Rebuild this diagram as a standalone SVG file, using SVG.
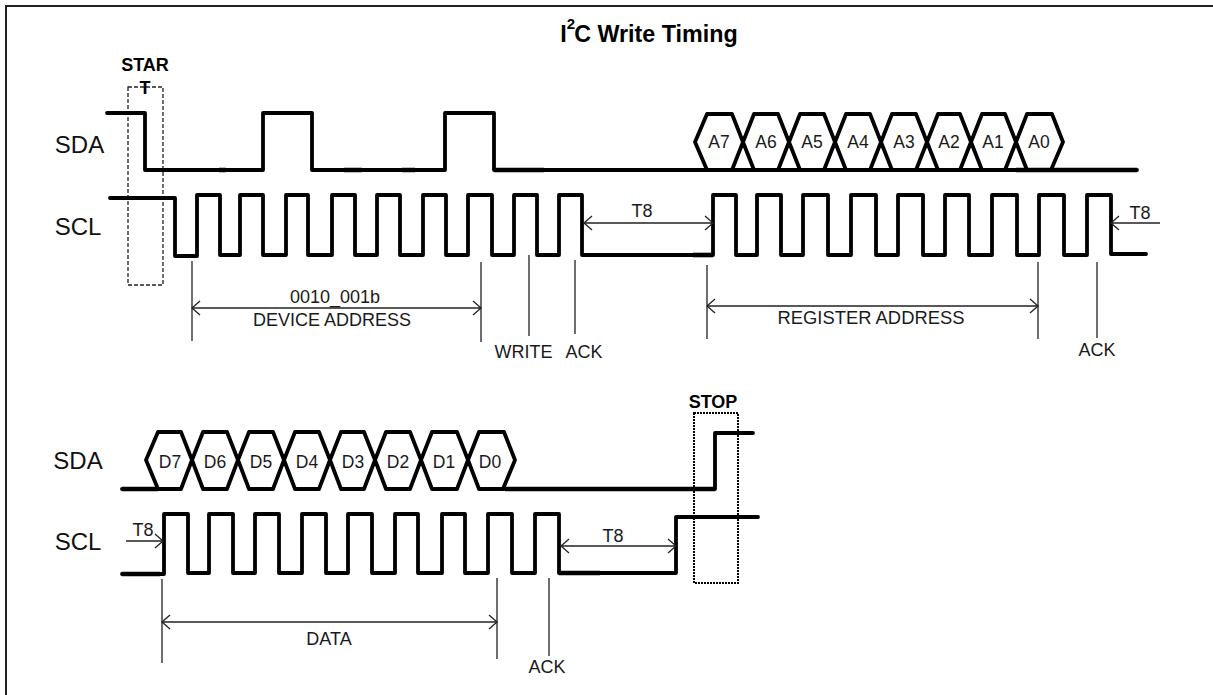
<svg xmlns="http://www.w3.org/2000/svg" width="1213" height="695" viewBox="0 0 1213 695">
<style>
text{font-family:"Liberation Sans",Arial,sans-serif;fill:#1a1a1a;font-size:18px;text-anchor:middle}
.sig{font-size:24px;fill:#111}
.b{font-weight:bold;fill:#000}
.h{font-size:17.500px}
.w{fill:none;stroke:#000;stroke-width:3.800;stroke-linejoin:round;stroke-linecap:round}
.k{fill:none;stroke:#000;stroke-width:4.600}
.t{fill:none;stroke:#222;stroke-width:1.300}
.a{marker-start:url(#l);marker-end:url(#r)}
</style>
<defs>
<marker id="r" markerUnits="userSpaceOnUse" markerWidth="10" markerHeight="16" refX="8" refY="8" orient="auto" overflow="visible"><path d="M0 1L8 8L0 15" fill="none" stroke="#222" stroke-width="1.300"/></marker>
<marker id="l" markerUnits="userSpaceOnUse" markerWidth="10" markerHeight="16" refX="0" refY="8" orient="auto" overflow="visible"><path d="M8 1L0 8L8 15" fill="none" stroke="#222" stroke-width="1.300"/></marker>
</defs>
<rect width="1213" height="695" fill="#fff"/>
<path id="frame" d="M1213 6H6V695" fill="none" stroke="#222" stroke-width="2"/>
<g id="title"><text class="b" x="649" y="42" style="font-size:23.300px">I<tspan dy="-13" style="font-size:15px">2</tspan><tspan dy="13" dx="-1">C Write Timing</tspan></text></g>

<g id="start"><rect class="t" x="128" y="87" width="35" height="198" stroke-dasharray="4 2"/><text class="b" x="145" y="71">STAR</text><text class="b" x="145" y="94">T</text></g>
<g id="stop"><rect x="694" y="413" width="44" height="170" fill="none" stroke="#000" stroke-width="2" stroke-dasharray="2 1"/><text class="b" x="713" y="408">STOP</text></g>

<g id="labels">
<text class="sig" x="79.500" y="153">SDA</text><text class="sig" x="78" y="235">SCL</text>
<text class="sig" x="78" y="469">SDA</text><text class="sig" x="78" y="550">SCL</text>
</g>

<g id="sda1"><path class="w" d="M107 113H145V170H263V113H312V170H445V113H494V170H1137"/><path class="k" d="M219 170H226M344 170H362M402 170H415M494 170H544M1016 170H1137"/></g>
<g id="scl1"><path class="w" d="M110 198H175V256H197V195H220V255H240V195H263V255H286V195H308V255H332V195H355V255H377V195H400V255H423V195H446V255H468V195H492V255H514V195H537V255H559V195H582V255H713V195H736V255H757V195H781V255H803V195H828V255H851V195H876V255H898V195H923V255H945V195H969V255H992V195H1017V255H1039V195H1064V255H1087V195H1111V254H1146"/><path class="k" d="M693 255H713"/></g>
<g id="addr">
<path class="w" d="M695 142L707 114H732L743 142L754 114H778L789 142L800 114H824L835 142L846 114H870L881 142L892 114H916L927 142L938 114H960L971 142L982 114H1005L1016 142L1027 114H1052L1063 142L1051 170H1027L1016 142L1005 170H982L971 142L960 170H938L927 142L916 170H892L881 142L870 170H846L835 142L824 170H800L789 142L778 170H754L743 142L732 170H707Z"/>
<text class="h" x="719" y="148">A7</text><text class="h" x="766" y="148">A6</text><text class="h" x="812" y="148">A5</text><text class="h" x="858" y="148">A4</text><text class="h" x="904" y="148">A3</text><text class="h" x="949" y="148">A2</text><text class="h" x="993" y="148">A1</text><text class="h" x="1039" y="148">A0</text>
</g>
<g id="sda2"><path class="w" d="M122 489H158M505 489H715V433H753"/><path class="k" d="M122 489H158M505 489H715"/></g>
<g id="data">
<path class="w" d="M146 460L158 432H181L192 460L203 432H227L238 460L249 432H273L284 460L295 432H319L330 460L341 432H364L375 460L386 432H410L421 460L432 432H457L468 460L479 432H504L515 460L503 489H479L468 460L457 489H432L421 460L410 489H386L375 460L364 489H341L330 460L319 489H295L284 460L273 489H249L238 460L227 489H203L192 460L181 489H158Z"/>
<text class="h" x="170" y="468">D7</text><text class="h" x="215" y="468">D6</text><text class="h" x="261" y="468">D5</text><text class="h" x="307" y="468">D4</text><text class="h" x="353" y="468">D3</text><text class="h" x="398" y="468">D2</text><text class="h" x="444" y="468">D1</text><text class="h" x="490" y="468">D0</text>
</g>
<g id="scl2"><path class="w" d="M122 574H164V514H188V573H209V514H233V573H255V514H279V573H302V514H326V573H348V514H372V573H395V514H418V573H442V514H465V573H488V514H512V573H535V514H559V573H676V517H758"/><path class="k" d="M122 574H160M559 573H600"/></g>

<g id="connectors">
<path class="t" d="M192 261V341M481 262V342M529 255V336M575 260V334M707 265V339M1038 262V339M1097 262V338M162 579V663M497 578V659M549 578V656"/>
<path class="t a" d="M192 308H481"/>
<path class="t a" d="M707 306H1038"/>
<path class="t a" d="M584 223H713"/>
<path class="t" marker-end="url(#r)" d="M1160 223H1111"/>
<path class="t" marker-end="url(#r)" d="M126 541H163"/>
<path class="t a" d="M162 622H497"/>
<path class="t a" d="M561 546H676"/>
</g>
<g id="notes">
<text x="335" y="303">0010_001b</text><text x="332" y="326">DEVICE ADDRESS</text>
<text x="523.500" y="358">WRITE</text><text x="584" y="358">ACK</text>
<text x="642" y="217">T8</text><text x="871" y="324" style="font-size:18.400px">REGISTER ADDRESS</text><text x="1097" y="356">ACK</text><text x="1140" y="219">T8</text>
<text x="143" y="536">T8</text><text x="329" y="645">DATA</text><text x="547" y="673">ACK</text><text x="613" y="542">T8</text>
</g>
</svg>
